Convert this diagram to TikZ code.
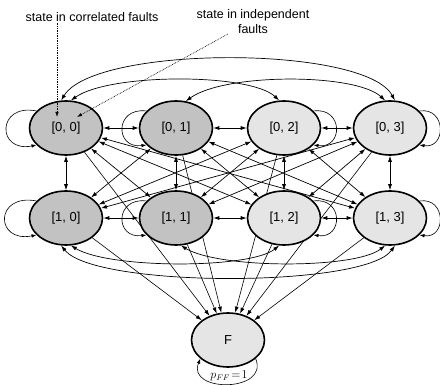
\documentclass[tikz,border=0pt]{standalone}
\usepackage{fontspec}
\setmainfont{Liberation Sans}
\usetikzlibrary{shapes.geometric,arrows.meta,backgrounds}

\tikzset{
  state/.style={ellipse, draw, line width=1.6pt, minimum width=73pt, minimum height=54pt, inner sep=0pt, font=\fontsize{13}{15}\selectfont},
  dark/.style={state, fill=black!24},
  light/.style={state, fill=black!10},
  both/.style={{Latex[length=6pt,width=4pt]}-{Latex[length=6pt,width=4pt]}, line width=0.7pt},
  tof/.style={-{Latex[length=6pt,width=4pt]}, line width=0.6pt},
  selfloop/.style={-{Latex[length=5pt,width=3.5pt]}, line width=0.6pt},
  notetext/.style={inner sep=1pt, font=\fontsize{12.5}{15}\selectfont},
  note/.style={densely dotted, -{Latex[length=5pt,width=3.5pt]}, line width=0.7pt}
}

\begin{document}
\begin{tikzpicture}[x=1pt,y=-1pt]
\useasboundingbox (0,0) rectangle (440,385);
\node[dark]  (s00) at (66,128)  {[0, 0]};
\node[dark]  (s01) at (176,128) {[0, 1]};
\node[light] (s02) at (284,128) {[0, 2]};
\node[light] (s03) at (390,128) {[0, 3]};
\node[dark]  (s10) at (66,218)  {[1, 0]};
\node[dark]  (s11) at (176,218) {[1, 1]};
\node[light] (s12) at (284,218) {[1, 2]};
\node[light] (s13) at (390,218) {[1, 3]};
\node[light] (F)   at (228,340) {F};
\node[notetext] (corr)  at (92,17)  {state in correlated faults};
\node[notetext, align=center] (indep) at (253,22) {state in independent\\faults};
\node[inner sep=0pt, font=\fontsize{12}{14}\selectfont] (pff) at (229,376) {$p_{FF}\!=\!1$};
\coordinate (tipA) at (57,117);
\coordinate (tipB) at (77,117);
\coordinate (tailB) at (228,34);

\begin{pgfonlayer}{background}
\draw[both] (s00) -- (s01);
\draw[both] (s01) -- (s02);
\draw[both] (s02) -- (s03);
\draw[both] (s10) -- (s11);
\draw[both] (s11) -- (s12);
\draw[both] (s12) -- (s13);
\draw[both] (s00) -- (s10);
\draw[both] (s01) -- (s11);
\draw[both] (s02) -- (s12);
\draw[both] (s03) -- (s13);
\draw[both] (s00) -- (s11);
\draw[both] (s00) -- (s12);
\draw[both] (s00) -- (s13);
\draw[both] (s01) -- (s10);
\draw[both] (s01) -- (s12);
\draw[both] (s01) -- (s13);
\draw[both] (s02) -- (s10);
\draw[both] (s02) -- (s11);
\draw[both] (s02) -- (s13);
\draw[both] (s03) -- (s10);
\draw[both] (s03) -- (s11);
\draw[both] (s03) -- (s12);
\draw[both] (s00.100) .. controls (95,45) and (365,45) .. (s03.80);
\draw[both] (s00.80) .. controls (110,73) and (250,73) .. (s02.100);
\draw[both] (s01.70) .. controls (225,73) and (355,73) .. (s03.100);
\draw[both] (s10.260) .. controls (95,288) and (365,288) .. (s13.280);
\draw[both] (s10.280) .. controls (110,269) and (250,269) .. (s12.260);
\draw[both] (s11.280) .. controls (220,269) and (355,269) .. (s13.260);
\draw[tof] (s00) -- (F);
\draw[tof] (s01) -- (F);
\draw[tof] (s02) -- (F);
\draw[tof] (s03) -- (F);
\draw[tof] (s10) -- (F);
\draw[tof] (s11) -- (F);
\draw[tof] (s12) -- (F);
\draw[tof] (s13) -- (F);
\draw[selfloop] (s00.150) .. controls +(-40,-8) and +(-40,8) .. (s00.210);
\draw[selfloop] (s01.150) .. controls +(-32,-4) and +(-32,4) .. (s01.210);
\draw[selfloop] (s02.30) .. controls +(30,-4) and +(30,4) .. (s02.330);
\draw[selfloop] (s03.30) .. controls +(27,-4) and +(27,4) .. (s03.330);
\draw[selfloop] (s10.150) .. controls +(-42,-8) and +(-42,8) .. (s10.210);
\draw[selfloop] (s11.150) .. controls +(-32,-4) and +(-32,4) .. (s11.210);
\draw[selfloop] (s12.30) .. controls +(30,-4) and +(30,4) .. (s12.330);
\draw[selfloop] (s13.30) .. controls +(27,-4) and +(27,4) .. (s13.330);
\end{pgfonlayer}

\draw[selfloop] (F.326) .. controls +(14,34) and +(-14,34) .. (F.214);
\draw[note] (corr.south -| tipA) -- (tipA);
\draw[note] (tailB) -- (tipB);
\end{tikzpicture}
\end{document}
